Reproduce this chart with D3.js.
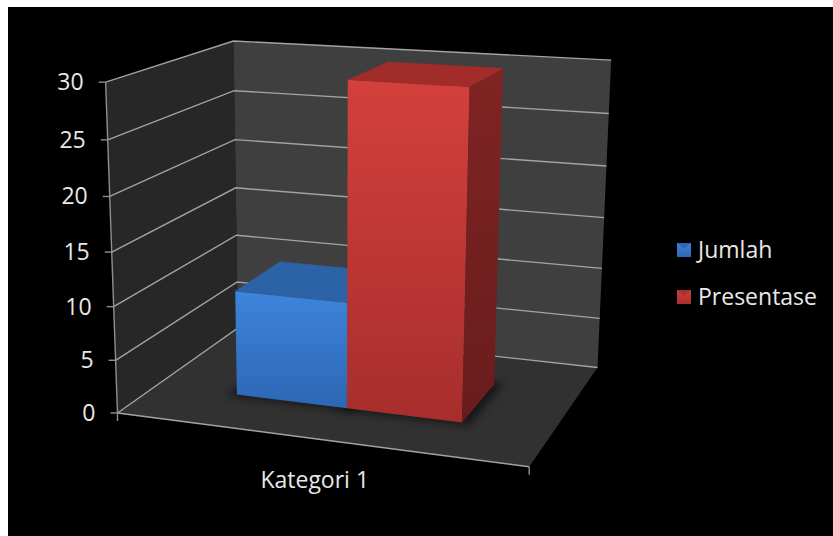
<!DOCTYPE html>
<html>
<head>
<meta charset="utf-8">
<script src="https://cdn.jsdelivr.net/npm/d3@7"></script>
<style>
html, body { margin: 0; padding: 0; background: #fff; }
svg { display: block; }
text { font-family: "Open Sans", sans-serif; fill: #e8e8e8; }
</style>
</head>
<body>
<svg id="chart" width="833" height="536"></svg>
<script>
// chart data
var categories = ["Kategori 1"];
var series = ["Jumlah", "Presentase"];
var values = [10, 30];
var yTicks = [0, 5, 10, 15, 20, 25, 30];
var yMax = 30;

// colours per series: front top, front bottom, top face, side top, side bottom
var seriesColors = [
    {front0: "#3d84db", front1: "#2d67b4", top: "#2c62a6", side0: "#245290", side1: "#1e457a"},
    {front0: "#d4403c", front1: "#a62e2c", top: "#a12c2a", side0: "#7f2423", side1: "#691c1c"}
];

// the plot box in the picture: world corner (u across, v up, w depth) -> pixel
var frame = [
    [[0, 0, 0], [118, 413]],
    [[0, 1, 0], [105, 82]],
    [[1, 0, 0], [529, 467]],
    [[0, 0, 1], [237, 328]],
    [[0, 1, 1], [234, 41]],
    [[1, 0, 1], [598, 367]],
    [[1, 1, 1], [611, 60]],
    [[0, 0.5, 0], [112, 252]],
    [[0, 0.5, 1], [236, 188]],
    [[1, 0.5, 1], [604, 218]]
];

//solve a small linear system
function gauss(M, r) {
    var n = r.length, a = M.map(function (row, i) { return row.concat([r[i]]); });
    for (var i = 0; i < n; i++) {
        var piv = i;
        for (var k = i + 1; k < n; k++) if (Math.abs(a[k][i]) > Math.abs(a[piv][i])) piv = k;
        var t = a[i]; a[i] = a[piv]; a[piv] = t;
        for (var k = i + 1; k < n; k++) {
            var f = a[k][i] / a[i][i];
            for (var j = i; j <= n; j++) a[k][j] -= f * a[i][j];
        }
    }
    var x = new Array(n);
    for (var i = n - 1; i >= 0; i--) {
        var s = a[i][n];
        for (var j = i + 1; j < n; j++) s -= a[i][j] * x[j];
        x[i] = s / a[i][i];
    }
    return x;
}

//least squares camera from the frame corners
function fitCamera(pts) {
    var A = [], b = [];
    pts.forEach(function (p) {
        var X = p[0][0], Y = p[0][1], Z = p[0][2], x = p[1][0], y = p[1][1];
        A.push([X, Y, Z, 1, 0, 0, 0, 0, -x * X, -x * Y, -x * Z]); b.push(x);
        A.push([0, 0, 0, 0, X, Y, Z, 1, -y * X, -y * Y, -y * Z]); b.push(y);
    });
    var M = [], r = [];
    for (var i = 0; i < 11; i++) {
        M[i] = [];
        for (var j = 0; j < 11; j++) {
            var s = 0;
            for (var k = 0; k < A.length; k++) s += A[k][i] * A[k][j];
            M[i][j] = s;
        }
        var s2 = 0;
        for (var k = 0; k < A.length; k++) s2 += A[k][i] * b[k];
        r[i] = s2;
    }
    return gauss(M, r);
}

var P = fitCamera(frame);

function proj(u, v, w) {
    var d = P[8] * u + P[9] * v + P[10] * w + 1;
    return [(P[0] * u + P[1] * v + P[2] * w + P[3]) / d,
            (P[4] * u + P[5] * v + P[6] * w + P[7]) / d];
}
function pts(list) {
    return list.map(function (q) { return proj(q[0], q[1], q[2]).join(","); }).join(" ");
}

// camera centre, for hiding back faces
var cam = gauss([[P[0], P[1], P[2]], [P[4], P[5], P[6]], [P[8], P[9], P[10]]], [-P[3], -P[7], -1]);

//scales
var y = d3.scaleLinear().domain([0, yMax]).range([0, 1]);
var x = d3.scaleBand().domain(series).range([0, 1]).paddingInner(0).paddingOuter(0.75);
var z = d3.scaleBand().domain(categories).range([0, 1]).paddingInner(0).paddingOuter(0.75);

var svg = d3.select("#chart");
var defs = svg.append("defs");

defs.append("filter").attr("id", "shadow").attr("x", "-20%").attr("y", "-20%").attr("width", "140%").attr("height", "140%")
    .append("feGaussianBlur").attr("stdDeviation", 4);

function grad(id, c0, c1) {
    var g = defs.append("linearGradient").attr("id", id)
        .attr("x1", 0).attr("y1", 0).attr("x2", 0).attr("y2", 1);
    g.append("stop").attr("offset", "0%").attr("stop-color", c0);
    g.append("stop").attr("offset", "100%").attr("stop-color", c1);
}
seriesColors.forEach(function (c, i) {
    grad("front" + i, c.front0, c.front1);
    grad("side" + i, c.side0, c.side1);
    grad("icon" + i, c.front0, c.front1);
});

//black chart area
svg.append("rect").attr("x", 8).attr("y", 7).attr("width", 825).attr("height", 529).attr("fill", "#000");

//walls and floor
var walls = svg.append("g").attr("class", "walls");
walls.append("polygon").attr("points", pts([[0, 0, 0], [1, 0, 0], [1, 0, 1], [0, 0, 1]])).attr("fill", "#313131");
walls.append("polygon").attr("points", pts([[0, 0, 0], [0, 1, 0], [0, 1, 1], [0, 0, 1]])).attr("fill", "#272727");
walls.append("polygon").attr("points", pts([[0, 0, 1], [0, 1, 1], [1, 1, 1], [1, 0, 1]])).attr("fill", "#3f3f3f");

//gridlines on both walls
var grid = svg.append("g").attr("class", "grid");
yTicks.forEach(function (t) {
    grid.append("polyline")
        .attr("points", pts([[0, y(t), 0], [0, y(t), 1], [1, y(t), 1]]))
        .attr("fill", "none").attr("stroke", "#a3a3a3").attr("stroke-width", 1.4);
});
//floor front edge
grid.append("polyline").attr("points", pts([[0, 0, 0], [1, 0, 0]]))
    .attr("fill", "none").attr("stroke", "#a3a3a3").attr("stroke-width", 1.4);

//value axis
var axis = svg.append("g").attr("class", "axis");
axis.append("polyline").attr("points", pts([[0, 0, 0], [0, 1, 0]]))
    .attr("fill", "none").attr("stroke", "#8f8f8f").attr("stroke-width", 1.4);
yTicks.forEach(function (t) {
    var p = proj(0, y(t), 0);
    axis.append("line").attr("x1", p[0]).attr("y1", p[1]).attr("x2", p[0] - 7).attr("y2", p[1])
        .attr("stroke", "#8f8f8f").attr("stroke-width", 1.4);
    axis.append("text").attr("x", p[0] - 22).attr("y", p[1] + 8)
        .attr("text-anchor", "end").attr("font-size", 23).text(t);
});
[0, 1].forEach(function (u) {
    var p = proj(u, 0, 0);
    axis.append("line").attr("x1", p[0]).attr("y1", p[1]).attr("x2", p[0]).attr("y2", p[1] + 8)
        .attr("stroke", "#8f8f8f").attr("stroke-width", 1.4);
});
categories.forEach(function (c) {
    var p = proj(z(c) + z.bandwidth() / 2, 0, 0);
    axis.append("text").attr("x", p[0]).attr("y", p[1] + 49)
        .attr("text-anchor", "middle").attr("font-size", 23).text(c);
});

//bars
var bars = svg.append("g").attr("class", "bars");
var w0 = z(categories[0]), w1 = w0 + z.bandwidth();

//soft shadow on the floor
series.forEach(function (s, i) {
    var u0 = x(s), u1 = u0 + x.bandwidth();
    bars.append("polygon")
        .attr("points", pts([[u0 - 0.02, 0, w0 - 0.02], [u1 + 0.02, 0, w0 - 0.02], [u1 + 0.02, 0, w1 + 0.02], [u0 - 0.02, 0, w1 + 0.02]]))
        .attr("fill", "#000").attr("opacity", 0.55).attr("filter", "url(#shadow)");
});

series.forEach(function (s, i) {
    var u0 = x(s), u1 = u0 + x.bandwidth(), h = y(values[i]);
    var faces = [
        {n: [0, 0, -1], v: [[u0, 0, w0], [u1, 0, w0], [u1, h, w0], [u0, h, w0]], fill: "url(#front" + i + ")"},
        {n: [0, 0, 1], v: [[u0, 0, w1], [u1, 0, w1], [u1, h, w1], [u0, h, w1]], fill: seriesColors[i].side1},
        {n: [-1, 0, 0], v: [[u0, 0, w0], [u0, h, w0], [u0, h, w1], [u0, 0, w1]], fill: "url(#side" + i + ")"},
        {n: [1, 0, 0], v: [[u1, 0, w0], [u1, h, w0], [u1, h, w1], [u1, 0, w1]], fill: "url(#side" + i + ")"},
        {n: [0, 1, 0], v: [[u0, h, w0], [u1, h, w0], [u1, h, w1], [u0, h, w1]], fill: seriesColors[i].top}
    ];
    faces.forEach(function (f) {
        var p = f.v[0];
        var dot = (cam[0] - p[0]) * f.n[0] + (cam[1] - p[1]) * f.n[1] + (cam[2] - p[2]) * f.n[2];
        if (dot <= 0) return;
        bars.append("polygon").attr("points", pts(f.v)).attr("fill", f.fill)
            .attr("stroke", f.fill.indexOf("url") === 0 ? "none" : f.fill).attr("stroke-width", 0.5);
    });
});

//legend
var legend = svg.append("g").attr("class", "legend").attr("transform", "translate(677,243)");
series.forEach(function (s, i) {
    var g = legend.append("g").attr("transform", "translate(0," + (i * 47) + ")");
    g.append("rect").attr("width", 14).attr("height", 14).attr("fill", "url(#icon" + i + ")");
    g.append("polygon").attr("points", "0,0 14,0 7,6").attr("fill", seriesColors[i].top).attr("opacity", 0.8);
    g.append("text").attr("x", 21).attr("y", 15).attr("font-size", 23).text(s);
});
</script>
</body>
</html>
